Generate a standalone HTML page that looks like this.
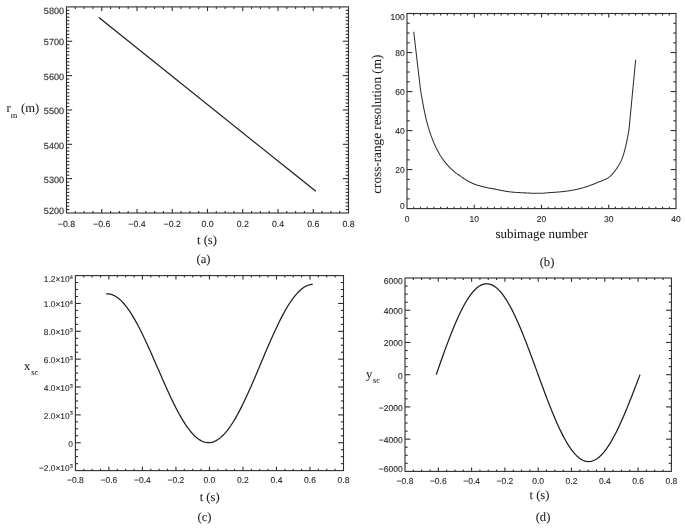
<!DOCTYPE html>
<html><head><meta charset="utf-8"><style>
html,body{margin:0;padding:0;background:#fff;}
body{width:685px;height:529px;overflow:hidden;}
svg{display:block;filter:grayscale(1) blur(0.3px);text-rendering:geometricPrecision;}
.s{font-family:"Liberation Sans",sans-serif;fill:#2a2a2a;stroke:#2a2a2a;stroke-width:0.12px;}
.r{font-family:"Liberation Serif",serif;fill:#1a1a1a;stroke:#1a1a1a;stroke-width:0.06px;}
</style></head><body>
<svg width="685" height="529" viewBox="0 0 685 529">
<rect width="685" height="529" fill="#fff"/>
<rect x="66.5" y="6.9" width="282" height="206.1" fill="none" stroke="#2e2e2e" stroke-width="1.1"/>
<text class="s" x="66.5" y="226.8" text-anchor="middle" font-size="8.8">&#8722;0.8</text>
<line x1="75.31" y1="213" x2="75.31" y2="210.94" stroke="#2e2e2e" stroke-width="1.1"/>
<line x1="75.31" y1="6.9" x2="75.31" y2="8.96" stroke="#2e2e2e" stroke-width="1.1"/>
<line x1="84.12" y1="213" x2="84.12" y2="210.94" stroke="#2e2e2e" stroke-width="1.1"/>
<line x1="84.12" y1="6.9" x2="84.12" y2="8.96" stroke="#2e2e2e" stroke-width="1.1"/>
<line x1="92.94" y1="213" x2="92.94" y2="210.94" stroke="#2e2e2e" stroke-width="1.1"/>
<line x1="92.94" y1="6.9" x2="92.94" y2="8.96" stroke="#2e2e2e" stroke-width="1.1"/>
<line x1="101.75" y1="213" x2="101.75" y2="208.88" stroke="#2e2e2e" stroke-width="1.1"/>
<line x1="101.75" y1="6.9" x2="101.75" y2="11.02" stroke="#2e2e2e" stroke-width="1.1"/>
<text class="s" x="101.75" y="226.8" text-anchor="middle" font-size="8.8">&#8722;0.6</text>
<line x1="110.56" y1="213" x2="110.56" y2="210.94" stroke="#2e2e2e" stroke-width="1.1"/>
<line x1="110.56" y1="6.9" x2="110.56" y2="8.96" stroke="#2e2e2e" stroke-width="1.1"/>
<line x1="119.38" y1="213" x2="119.38" y2="210.94" stroke="#2e2e2e" stroke-width="1.1"/>
<line x1="119.38" y1="6.9" x2="119.38" y2="8.96" stroke="#2e2e2e" stroke-width="1.1"/>
<line x1="128.19" y1="213" x2="128.19" y2="210.94" stroke="#2e2e2e" stroke-width="1.1"/>
<line x1="128.19" y1="6.9" x2="128.19" y2="8.96" stroke="#2e2e2e" stroke-width="1.1"/>
<line x1="137" y1="213" x2="137" y2="208.88" stroke="#2e2e2e" stroke-width="1.1"/>
<line x1="137" y1="6.9" x2="137" y2="11.02" stroke="#2e2e2e" stroke-width="1.1"/>
<text class="s" x="137" y="226.8" text-anchor="middle" font-size="8.8">&#8722;0.4</text>
<line x1="145.81" y1="213" x2="145.81" y2="210.94" stroke="#2e2e2e" stroke-width="1.1"/>
<line x1="145.81" y1="6.9" x2="145.81" y2="8.96" stroke="#2e2e2e" stroke-width="1.1"/>
<line x1="154.62" y1="213" x2="154.62" y2="210.94" stroke="#2e2e2e" stroke-width="1.1"/>
<line x1="154.62" y1="6.9" x2="154.62" y2="8.96" stroke="#2e2e2e" stroke-width="1.1"/>
<line x1="163.44" y1="213" x2="163.44" y2="210.94" stroke="#2e2e2e" stroke-width="1.1"/>
<line x1="163.44" y1="6.9" x2="163.44" y2="8.96" stroke="#2e2e2e" stroke-width="1.1"/>
<line x1="172.25" y1="213" x2="172.25" y2="208.88" stroke="#2e2e2e" stroke-width="1.1"/>
<line x1="172.25" y1="6.9" x2="172.25" y2="11.02" stroke="#2e2e2e" stroke-width="1.1"/>
<text class="s" x="172.25" y="226.8" text-anchor="middle" font-size="8.8">&#8722;0.2</text>
<line x1="181.06" y1="213" x2="181.06" y2="210.94" stroke="#2e2e2e" stroke-width="1.1"/>
<line x1="181.06" y1="6.9" x2="181.06" y2="8.96" stroke="#2e2e2e" stroke-width="1.1"/>
<line x1="189.88" y1="213" x2="189.88" y2="210.94" stroke="#2e2e2e" stroke-width="1.1"/>
<line x1="189.88" y1="6.9" x2="189.88" y2="8.96" stroke="#2e2e2e" stroke-width="1.1"/>
<line x1="198.69" y1="213" x2="198.69" y2="210.94" stroke="#2e2e2e" stroke-width="1.1"/>
<line x1="198.69" y1="6.9" x2="198.69" y2="8.96" stroke="#2e2e2e" stroke-width="1.1"/>
<line x1="207.5" y1="213" x2="207.5" y2="208.88" stroke="#2e2e2e" stroke-width="1.1"/>
<line x1="207.5" y1="6.9" x2="207.5" y2="11.02" stroke="#2e2e2e" stroke-width="1.1"/>
<text class="s" x="207.5" y="226.8" text-anchor="middle" font-size="8.8">0.0</text>
<line x1="216.31" y1="213" x2="216.31" y2="210.94" stroke="#2e2e2e" stroke-width="1.1"/>
<line x1="216.31" y1="6.9" x2="216.31" y2="8.96" stroke="#2e2e2e" stroke-width="1.1"/>
<line x1="225.12" y1="213" x2="225.12" y2="210.94" stroke="#2e2e2e" stroke-width="1.1"/>
<line x1="225.12" y1="6.9" x2="225.12" y2="8.96" stroke="#2e2e2e" stroke-width="1.1"/>
<line x1="233.94" y1="213" x2="233.94" y2="210.94" stroke="#2e2e2e" stroke-width="1.1"/>
<line x1="233.94" y1="6.9" x2="233.94" y2="8.96" stroke="#2e2e2e" stroke-width="1.1"/>
<line x1="242.75" y1="213" x2="242.75" y2="208.88" stroke="#2e2e2e" stroke-width="1.1"/>
<line x1="242.75" y1="6.9" x2="242.75" y2="11.02" stroke="#2e2e2e" stroke-width="1.1"/>
<text class="s" x="242.75" y="226.8" text-anchor="middle" font-size="8.8">0.2</text>
<line x1="251.56" y1="213" x2="251.56" y2="210.94" stroke="#2e2e2e" stroke-width="1.1"/>
<line x1="251.56" y1="6.9" x2="251.56" y2="8.96" stroke="#2e2e2e" stroke-width="1.1"/>
<line x1="260.38" y1="213" x2="260.38" y2="210.94" stroke="#2e2e2e" stroke-width="1.1"/>
<line x1="260.38" y1="6.9" x2="260.38" y2="8.96" stroke="#2e2e2e" stroke-width="1.1"/>
<line x1="269.19" y1="213" x2="269.19" y2="210.94" stroke="#2e2e2e" stroke-width="1.1"/>
<line x1="269.19" y1="6.9" x2="269.19" y2="8.96" stroke="#2e2e2e" stroke-width="1.1"/>
<line x1="278" y1="213" x2="278" y2="208.88" stroke="#2e2e2e" stroke-width="1.1"/>
<line x1="278" y1="6.9" x2="278" y2="11.02" stroke="#2e2e2e" stroke-width="1.1"/>
<text class="s" x="278" y="226.8" text-anchor="middle" font-size="8.8">0.4</text>
<line x1="286.81" y1="213" x2="286.81" y2="210.94" stroke="#2e2e2e" stroke-width="1.1"/>
<line x1="286.81" y1="6.9" x2="286.81" y2="8.96" stroke="#2e2e2e" stroke-width="1.1"/>
<line x1="295.62" y1="213" x2="295.62" y2="210.94" stroke="#2e2e2e" stroke-width="1.1"/>
<line x1="295.62" y1="6.9" x2="295.62" y2="8.96" stroke="#2e2e2e" stroke-width="1.1"/>
<line x1="304.44" y1="213" x2="304.44" y2="210.94" stroke="#2e2e2e" stroke-width="1.1"/>
<line x1="304.44" y1="6.9" x2="304.44" y2="8.96" stroke="#2e2e2e" stroke-width="1.1"/>
<line x1="313.25" y1="213" x2="313.25" y2="208.88" stroke="#2e2e2e" stroke-width="1.1"/>
<line x1="313.25" y1="6.9" x2="313.25" y2="11.02" stroke="#2e2e2e" stroke-width="1.1"/>
<text class="s" x="313.25" y="226.8" text-anchor="middle" font-size="8.8">0.6</text>
<line x1="322.06" y1="213" x2="322.06" y2="210.94" stroke="#2e2e2e" stroke-width="1.1"/>
<line x1="322.06" y1="6.9" x2="322.06" y2="8.96" stroke="#2e2e2e" stroke-width="1.1"/>
<line x1="330.88" y1="213" x2="330.88" y2="210.94" stroke="#2e2e2e" stroke-width="1.1"/>
<line x1="330.88" y1="6.9" x2="330.88" y2="8.96" stroke="#2e2e2e" stroke-width="1.1"/>
<line x1="339.69" y1="213" x2="339.69" y2="210.94" stroke="#2e2e2e" stroke-width="1.1"/>
<line x1="339.69" y1="6.9" x2="339.69" y2="8.96" stroke="#2e2e2e" stroke-width="1.1"/>
<text class="s" x="348.5" y="226.8" text-anchor="middle" font-size="8.8">0.8</text>
<text class="s" x="64.1" y="213.6" text-anchor="end" font-size="9.1">5200</text>
<line x1="66.5" y1="209.56" x2="69.32" y2="209.56" stroke="#2e2e2e" stroke-width="1.1"/>
<line x1="348.5" y1="209.56" x2="345.68" y2="209.56" stroke="#2e2e2e" stroke-width="1.1"/>
<line x1="66.5" y1="206.13" x2="69.32" y2="206.13" stroke="#2e2e2e" stroke-width="1.1"/>
<line x1="348.5" y1="206.13" x2="345.68" y2="206.13" stroke="#2e2e2e" stroke-width="1.1"/>
<line x1="66.5" y1="202.69" x2="69.32" y2="202.69" stroke="#2e2e2e" stroke-width="1.1"/>
<line x1="348.5" y1="202.69" x2="345.68" y2="202.69" stroke="#2e2e2e" stroke-width="1.1"/>
<line x1="66.5" y1="199.26" x2="69.32" y2="199.26" stroke="#2e2e2e" stroke-width="1.1"/>
<line x1="348.5" y1="199.26" x2="345.68" y2="199.26" stroke="#2e2e2e" stroke-width="1.1"/>
<line x1="66.5" y1="195.82" x2="69.32" y2="195.82" stroke="#2e2e2e" stroke-width="1.1"/>
<line x1="348.5" y1="195.82" x2="345.68" y2="195.82" stroke="#2e2e2e" stroke-width="1.1"/>
<line x1="66.5" y1="192.39" x2="69.32" y2="192.39" stroke="#2e2e2e" stroke-width="1.1"/>
<line x1="348.5" y1="192.39" x2="345.68" y2="192.39" stroke="#2e2e2e" stroke-width="1.1"/>
<line x1="66.5" y1="188.96" x2="69.32" y2="188.96" stroke="#2e2e2e" stroke-width="1.1"/>
<line x1="348.5" y1="188.96" x2="345.68" y2="188.96" stroke="#2e2e2e" stroke-width="1.1"/>
<line x1="66.5" y1="185.52" x2="69.32" y2="185.52" stroke="#2e2e2e" stroke-width="1.1"/>
<line x1="348.5" y1="185.52" x2="345.68" y2="185.52" stroke="#2e2e2e" stroke-width="1.1"/>
<line x1="66.5" y1="182.09" x2="69.32" y2="182.09" stroke="#2e2e2e" stroke-width="1.1"/>
<line x1="348.5" y1="182.09" x2="345.68" y2="182.09" stroke="#2e2e2e" stroke-width="1.1"/>
<line x1="66.5" y1="178.65" x2="72.14" y2="178.65" stroke="#2e2e2e" stroke-width="1.1"/>
<line x1="348.5" y1="178.65" x2="342.86" y2="178.65" stroke="#2e2e2e" stroke-width="1.1"/>
<text class="s" x="64.1" y="182.85" text-anchor="end" font-size="9.1">5300</text>
<line x1="66.5" y1="175.22" x2="69.32" y2="175.22" stroke="#2e2e2e" stroke-width="1.1"/>
<line x1="348.5" y1="175.22" x2="345.68" y2="175.22" stroke="#2e2e2e" stroke-width="1.1"/>
<line x1="66.5" y1="171.78" x2="69.32" y2="171.78" stroke="#2e2e2e" stroke-width="1.1"/>
<line x1="348.5" y1="171.78" x2="345.68" y2="171.78" stroke="#2e2e2e" stroke-width="1.1"/>
<line x1="66.5" y1="168.34" x2="69.32" y2="168.34" stroke="#2e2e2e" stroke-width="1.1"/>
<line x1="348.5" y1="168.34" x2="345.68" y2="168.34" stroke="#2e2e2e" stroke-width="1.1"/>
<line x1="66.5" y1="164.91" x2="69.32" y2="164.91" stroke="#2e2e2e" stroke-width="1.1"/>
<line x1="348.5" y1="164.91" x2="345.68" y2="164.91" stroke="#2e2e2e" stroke-width="1.1"/>
<line x1="66.5" y1="161.48" x2="69.32" y2="161.48" stroke="#2e2e2e" stroke-width="1.1"/>
<line x1="348.5" y1="161.48" x2="345.68" y2="161.48" stroke="#2e2e2e" stroke-width="1.1"/>
<line x1="66.5" y1="158.04" x2="69.32" y2="158.04" stroke="#2e2e2e" stroke-width="1.1"/>
<line x1="348.5" y1="158.04" x2="345.68" y2="158.04" stroke="#2e2e2e" stroke-width="1.1"/>
<line x1="66.5" y1="154.61" x2="69.32" y2="154.61" stroke="#2e2e2e" stroke-width="1.1"/>
<line x1="348.5" y1="154.61" x2="345.68" y2="154.61" stroke="#2e2e2e" stroke-width="1.1"/>
<line x1="66.5" y1="151.17" x2="69.32" y2="151.17" stroke="#2e2e2e" stroke-width="1.1"/>
<line x1="348.5" y1="151.17" x2="345.68" y2="151.17" stroke="#2e2e2e" stroke-width="1.1"/>
<line x1="66.5" y1="147.74" x2="69.32" y2="147.74" stroke="#2e2e2e" stroke-width="1.1"/>
<line x1="348.5" y1="147.74" x2="345.68" y2="147.74" stroke="#2e2e2e" stroke-width="1.1"/>
<line x1="66.5" y1="144.3" x2="72.14" y2="144.3" stroke="#2e2e2e" stroke-width="1.1"/>
<line x1="348.5" y1="144.3" x2="342.86" y2="144.3" stroke="#2e2e2e" stroke-width="1.1"/>
<text class="s" x="64.1" y="148.5" text-anchor="end" font-size="9.1">5400</text>
<line x1="66.5" y1="140.87" x2="69.32" y2="140.87" stroke="#2e2e2e" stroke-width="1.1"/>
<line x1="348.5" y1="140.87" x2="345.68" y2="140.87" stroke="#2e2e2e" stroke-width="1.1"/>
<line x1="66.5" y1="137.43" x2="69.32" y2="137.43" stroke="#2e2e2e" stroke-width="1.1"/>
<line x1="348.5" y1="137.43" x2="345.68" y2="137.43" stroke="#2e2e2e" stroke-width="1.1"/>
<line x1="66.5" y1="134" x2="69.32" y2="134" stroke="#2e2e2e" stroke-width="1.1"/>
<line x1="348.5" y1="134" x2="345.68" y2="134" stroke="#2e2e2e" stroke-width="1.1"/>
<line x1="66.5" y1="130.56" x2="69.32" y2="130.56" stroke="#2e2e2e" stroke-width="1.1"/>
<line x1="348.5" y1="130.56" x2="345.68" y2="130.56" stroke="#2e2e2e" stroke-width="1.1"/>
<line x1="66.5" y1="127.13" x2="69.32" y2="127.13" stroke="#2e2e2e" stroke-width="1.1"/>
<line x1="348.5" y1="127.13" x2="345.68" y2="127.13" stroke="#2e2e2e" stroke-width="1.1"/>
<line x1="66.5" y1="123.69" x2="69.32" y2="123.69" stroke="#2e2e2e" stroke-width="1.1"/>
<line x1="348.5" y1="123.69" x2="345.68" y2="123.69" stroke="#2e2e2e" stroke-width="1.1"/>
<line x1="66.5" y1="120.26" x2="69.32" y2="120.26" stroke="#2e2e2e" stroke-width="1.1"/>
<line x1="348.5" y1="120.26" x2="345.68" y2="120.26" stroke="#2e2e2e" stroke-width="1.1"/>
<line x1="66.5" y1="116.82" x2="69.32" y2="116.82" stroke="#2e2e2e" stroke-width="1.1"/>
<line x1="348.5" y1="116.82" x2="345.68" y2="116.82" stroke="#2e2e2e" stroke-width="1.1"/>
<line x1="66.5" y1="113.39" x2="69.32" y2="113.39" stroke="#2e2e2e" stroke-width="1.1"/>
<line x1="348.5" y1="113.39" x2="345.68" y2="113.39" stroke="#2e2e2e" stroke-width="1.1"/>
<line x1="66.5" y1="109.95" x2="72.14" y2="109.95" stroke="#2e2e2e" stroke-width="1.1"/>
<line x1="348.5" y1="109.95" x2="342.86" y2="109.95" stroke="#2e2e2e" stroke-width="1.1"/>
<text class="s" x="64.1" y="114.15" text-anchor="end" font-size="9.1">5500</text>
<line x1="66.5" y1="106.52" x2="69.32" y2="106.52" stroke="#2e2e2e" stroke-width="1.1"/>
<line x1="348.5" y1="106.52" x2="345.68" y2="106.52" stroke="#2e2e2e" stroke-width="1.1"/>
<line x1="66.5" y1="103.08" x2="69.32" y2="103.08" stroke="#2e2e2e" stroke-width="1.1"/>
<line x1="348.5" y1="103.08" x2="345.68" y2="103.08" stroke="#2e2e2e" stroke-width="1.1"/>
<line x1="66.5" y1="99.65" x2="69.32" y2="99.65" stroke="#2e2e2e" stroke-width="1.1"/>
<line x1="348.5" y1="99.65" x2="345.68" y2="99.65" stroke="#2e2e2e" stroke-width="1.1"/>
<line x1="66.5" y1="96.21" x2="69.32" y2="96.21" stroke="#2e2e2e" stroke-width="1.1"/>
<line x1="348.5" y1="96.21" x2="345.68" y2="96.21" stroke="#2e2e2e" stroke-width="1.1"/>
<line x1="66.5" y1="92.78" x2="69.32" y2="92.78" stroke="#2e2e2e" stroke-width="1.1"/>
<line x1="348.5" y1="92.78" x2="345.68" y2="92.78" stroke="#2e2e2e" stroke-width="1.1"/>
<line x1="66.5" y1="89.34" x2="69.32" y2="89.34" stroke="#2e2e2e" stroke-width="1.1"/>
<line x1="348.5" y1="89.34" x2="345.68" y2="89.34" stroke="#2e2e2e" stroke-width="1.1"/>
<line x1="66.5" y1="85.91" x2="69.32" y2="85.91" stroke="#2e2e2e" stroke-width="1.1"/>
<line x1="348.5" y1="85.91" x2="345.68" y2="85.91" stroke="#2e2e2e" stroke-width="1.1"/>
<line x1="66.5" y1="82.47" x2="69.32" y2="82.47" stroke="#2e2e2e" stroke-width="1.1"/>
<line x1="348.5" y1="82.47" x2="345.68" y2="82.47" stroke="#2e2e2e" stroke-width="1.1"/>
<line x1="66.5" y1="79.03" x2="69.32" y2="79.03" stroke="#2e2e2e" stroke-width="1.1"/>
<line x1="348.5" y1="79.03" x2="345.68" y2="79.03" stroke="#2e2e2e" stroke-width="1.1"/>
<line x1="66.5" y1="75.6" x2="72.14" y2="75.6" stroke="#2e2e2e" stroke-width="1.1"/>
<line x1="348.5" y1="75.6" x2="342.86" y2="75.6" stroke="#2e2e2e" stroke-width="1.1"/>
<text class="s" x="64.1" y="79.8" text-anchor="end" font-size="9.1">5600</text>
<line x1="66.5" y1="72.17" x2="69.32" y2="72.17" stroke="#2e2e2e" stroke-width="1.1"/>
<line x1="348.5" y1="72.17" x2="345.68" y2="72.17" stroke="#2e2e2e" stroke-width="1.1"/>
<line x1="66.5" y1="68.73" x2="69.32" y2="68.73" stroke="#2e2e2e" stroke-width="1.1"/>
<line x1="348.5" y1="68.73" x2="345.68" y2="68.73" stroke="#2e2e2e" stroke-width="1.1"/>
<line x1="66.5" y1="65.3" x2="69.32" y2="65.3" stroke="#2e2e2e" stroke-width="1.1"/>
<line x1="348.5" y1="65.3" x2="345.68" y2="65.3" stroke="#2e2e2e" stroke-width="1.1"/>
<line x1="66.5" y1="61.86" x2="69.32" y2="61.86" stroke="#2e2e2e" stroke-width="1.1"/>
<line x1="348.5" y1="61.86" x2="345.68" y2="61.86" stroke="#2e2e2e" stroke-width="1.1"/>
<line x1="66.5" y1="58.43" x2="69.32" y2="58.43" stroke="#2e2e2e" stroke-width="1.1"/>
<line x1="348.5" y1="58.43" x2="345.68" y2="58.43" stroke="#2e2e2e" stroke-width="1.1"/>
<line x1="66.5" y1="54.99" x2="69.32" y2="54.99" stroke="#2e2e2e" stroke-width="1.1"/>
<line x1="348.5" y1="54.99" x2="345.68" y2="54.99" stroke="#2e2e2e" stroke-width="1.1"/>
<line x1="66.5" y1="51.56" x2="69.32" y2="51.56" stroke="#2e2e2e" stroke-width="1.1"/>
<line x1="348.5" y1="51.56" x2="345.68" y2="51.56" stroke="#2e2e2e" stroke-width="1.1"/>
<line x1="66.5" y1="48.12" x2="69.32" y2="48.12" stroke="#2e2e2e" stroke-width="1.1"/>
<line x1="348.5" y1="48.12" x2="345.68" y2="48.12" stroke="#2e2e2e" stroke-width="1.1"/>
<line x1="66.5" y1="44.69" x2="69.32" y2="44.69" stroke="#2e2e2e" stroke-width="1.1"/>
<line x1="348.5" y1="44.69" x2="345.68" y2="44.69" stroke="#2e2e2e" stroke-width="1.1"/>
<line x1="66.5" y1="41.25" x2="72.14" y2="41.25" stroke="#2e2e2e" stroke-width="1.1"/>
<line x1="348.5" y1="41.25" x2="342.86" y2="41.25" stroke="#2e2e2e" stroke-width="1.1"/>
<text class="s" x="64.1" y="45.45" text-anchor="end" font-size="9.1">5700</text>
<line x1="66.5" y1="37.81" x2="69.32" y2="37.81" stroke="#2e2e2e" stroke-width="1.1"/>
<line x1="348.5" y1="37.81" x2="345.68" y2="37.81" stroke="#2e2e2e" stroke-width="1.1"/>
<line x1="66.5" y1="34.38" x2="69.32" y2="34.38" stroke="#2e2e2e" stroke-width="1.1"/>
<line x1="348.5" y1="34.38" x2="345.68" y2="34.38" stroke="#2e2e2e" stroke-width="1.1"/>
<line x1="66.5" y1="30.95" x2="69.32" y2="30.95" stroke="#2e2e2e" stroke-width="1.1"/>
<line x1="348.5" y1="30.95" x2="345.68" y2="30.95" stroke="#2e2e2e" stroke-width="1.1"/>
<line x1="66.5" y1="27.51" x2="69.32" y2="27.51" stroke="#2e2e2e" stroke-width="1.1"/>
<line x1="348.5" y1="27.51" x2="345.68" y2="27.51" stroke="#2e2e2e" stroke-width="1.1"/>
<line x1="66.5" y1="24.08" x2="69.32" y2="24.08" stroke="#2e2e2e" stroke-width="1.1"/>
<line x1="348.5" y1="24.08" x2="345.68" y2="24.08" stroke="#2e2e2e" stroke-width="1.1"/>
<line x1="66.5" y1="20.64" x2="69.32" y2="20.64" stroke="#2e2e2e" stroke-width="1.1"/>
<line x1="348.5" y1="20.64" x2="345.68" y2="20.64" stroke="#2e2e2e" stroke-width="1.1"/>
<line x1="66.5" y1="17.21" x2="69.32" y2="17.21" stroke="#2e2e2e" stroke-width="1.1"/>
<line x1="348.5" y1="17.21" x2="345.68" y2="17.21" stroke="#2e2e2e" stroke-width="1.1"/>
<line x1="66.5" y1="13.77" x2="69.32" y2="13.77" stroke="#2e2e2e" stroke-width="1.1"/>
<line x1="348.5" y1="13.77" x2="345.68" y2="13.77" stroke="#2e2e2e" stroke-width="1.1"/>
<line x1="66.5" y1="10.34" x2="69.32" y2="10.34" stroke="#2e2e2e" stroke-width="1.1"/>
<line x1="348.5" y1="10.34" x2="345.68" y2="10.34" stroke="#2e2e2e" stroke-width="1.1"/>
<text class="s" x="64.1" y="13.7" text-anchor="end" font-size="9.1">5800</text>
<polyline points="98.93,17.55 315.81,191.36" fill="none" stroke="#1e1e1e" stroke-width="1.25" stroke-linejoin="round"/>
<text class="r" x="207" y="243.6" text-anchor="middle" font-size="12.6">t (s)</text>
<text class="r" x="203.5" y="262.7" text-anchor="middle" font-size="12.6">(a)</text>
<text x="6.5" y="112.3" font-size="12.6" class="r">r<tspan font-size="8.4" dy="5.6">m</tspan><tspan dy="-5.6" dx="3.9">(m)</tspan></text>
<rect x="407" y="13.5" width="269" height="195.1" fill="none" stroke="#2e2e2e" stroke-width="1.1"/>
<text class="s" x="407" y="221.7" text-anchor="middle" font-size="8.5">0</text>
<line x1="413.73" y1="208.6" x2="413.73" y2="206.65" stroke="#2e2e2e" stroke-width="1.1"/>
<line x1="413.73" y1="13.5" x2="413.73" y2="15.45" stroke="#2e2e2e" stroke-width="1.1"/>
<line x1="420.45" y1="208.6" x2="420.45" y2="206.65" stroke="#2e2e2e" stroke-width="1.1"/>
<line x1="420.45" y1="13.5" x2="420.45" y2="15.45" stroke="#2e2e2e" stroke-width="1.1"/>
<line x1="427.18" y1="208.6" x2="427.18" y2="206.65" stroke="#2e2e2e" stroke-width="1.1"/>
<line x1="427.18" y1="13.5" x2="427.18" y2="15.45" stroke="#2e2e2e" stroke-width="1.1"/>
<line x1="433.9" y1="208.6" x2="433.9" y2="206.65" stroke="#2e2e2e" stroke-width="1.1"/>
<line x1="433.9" y1="13.5" x2="433.9" y2="15.45" stroke="#2e2e2e" stroke-width="1.1"/>
<line x1="440.62" y1="208.6" x2="440.62" y2="206.65" stroke="#2e2e2e" stroke-width="1.1"/>
<line x1="440.62" y1="13.5" x2="440.62" y2="15.45" stroke="#2e2e2e" stroke-width="1.1"/>
<line x1="447.35" y1="208.6" x2="447.35" y2="206.65" stroke="#2e2e2e" stroke-width="1.1"/>
<line x1="447.35" y1="13.5" x2="447.35" y2="15.45" stroke="#2e2e2e" stroke-width="1.1"/>
<line x1="454.07" y1="208.6" x2="454.07" y2="206.65" stroke="#2e2e2e" stroke-width="1.1"/>
<line x1="454.07" y1="13.5" x2="454.07" y2="15.45" stroke="#2e2e2e" stroke-width="1.1"/>
<line x1="460.8" y1="208.6" x2="460.8" y2="206.65" stroke="#2e2e2e" stroke-width="1.1"/>
<line x1="460.8" y1="13.5" x2="460.8" y2="15.45" stroke="#2e2e2e" stroke-width="1.1"/>
<line x1="467.52" y1="208.6" x2="467.52" y2="206.65" stroke="#2e2e2e" stroke-width="1.1"/>
<line x1="467.52" y1="13.5" x2="467.52" y2="15.45" stroke="#2e2e2e" stroke-width="1.1"/>
<line x1="474.25" y1="208.6" x2="474.25" y2="204.7" stroke="#2e2e2e" stroke-width="1.1"/>
<line x1="474.25" y1="13.5" x2="474.25" y2="17.4" stroke="#2e2e2e" stroke-width="1.1"/>
<text class="s" x="474.25" y="221.7" text-anchor="middle" font-size="8.5">10</text>
<line x1="480.98" y1="208.6" x2="480.98" y2="206.65" stroke="#2e2e2e" stroke-width="1.1"/>
<line x1="480.98" y1="13.5" x2="480.98" y2="15.45" stroke="#2e2e2e" stroke-width="1.1"/>
<line x1="487.7" y1="208.6" x2="487.7" y2="206.65" stroke="#2e2e2e" stroke-width="1.1"/>
<line x1="487.7" y1="13.5" x2="487.7" y2="15.45" stroke="#2e2e2e" stroke-width="1.1"/>
<line x1="494.43" y1="208.6" x2="494.43" y2="206.65" stroke="#2e2e2e" stroke-width="1.1"/>
<line x1="494.43" y1="13.5" x2="494.43" y2="15.45" stroke="#2e2e2e" stroke-width="1.1"/>
<line x1="501.15" y1="208.6" x2="501.15" y2="206.65" stroke="#2e2e2e" stroke-width="1.1"/>
<line x1="501.15" y1="13.5" x2="501.15" y2="15.45" stroke="#2e2e2e" stroke-width="1.1"/>
<line x1="507.88" y1="208.6" x2="507.88" y2="206.65" stroke="#2e2e2e" stroke-width="1.1"/>
<line x1="507.88" y1="13.5" x2="507.88" y2="15.45" stroke="#2e2e2e" stroke-width="1.1"/>
<line x1="514.6" y1="208.6" x2="514.6" y2="206.65" stroke="#2e2e2e" stroke-width="1.1"/>
<line x1="514.6" y1="13.5" x2="514.6" y2="15.45" stroke="#2e2e2e" stroke-width="1.1"/>
<line x1="521.33" y1="208.6" x2="521.33" y2="206.65" stroke="#2e2e2e" stroke-width="1.1"/>
<line x1="521.33" y1="13.5" x2="521.33" y2="15.45" stroke="#2e2e2e" stroke-width="1.1"/>
<line x1="528.05" y1="208.6" x2="528.05" y2="206.65" stroke="#2e2e2e" stroke-width="1.1"/>
<line x1="528.05" y1="13.5" x2="528.05" y2="15.45" stroke="#2e2e2e" stroke-width="1.1"/>
<line x1="534.77" y1="208.6" x2="534.77" y2="206.65" stroke="#2e2e2e" stroke-width="1.1"/>
<line x1="534.77" y1="13.5" x2="534.77" y2="15.45" stroke="#2e2e2e" stroke-width="1.1"/>
<line x1="541.5" y1="208.6" x2="541.5" y2="204.7" stroke="#2e2e2e" stroke-width="1.1"/>
<line x1="541.5" y1="13.5" x2="541.5" y2="17.4" stroke="#2e2e2e" stroke-width="1.1"/>
<text class="s" x="541.5" y="221.7" text-anchor="middle" font-size="8.5">20</text>
<line x1="548.23" y1="208.6" x2="548.23" y2="206.65" stroke="#2e2e2e" stroke-width="1.1"/>
<line x1="548.23" y1="13.5" x2="548.23" y2="15.45" stroke="#2e2e2e" stroke-width="1.1"/>
<line x1="554.95" y1="208.6" x2="554.95" y2="206.65" stroke="#2e2e2e" stroke-width="1.1"/>
<line x1="554.95" y1="13.5" x2="554.95" y2="15.45" stroke="#2e2e2e" stroke-width="1.1"/>
<line x1="561.67" y1="208.6" x2="561.67" y2="206.65" stroke="#2e2e2e" stroke-width="1.1"/>
<line x1="561.67" y1="13.5" x2="561.67" y2="15.45" stroke="#2e2e2e" stroke-width="1.1"/>
<line x1="568.4" y1="208.6" x2="568.4" y2="206.65" stroke="#2e2e2e" stroke-width="1.1"/>
<line x1="568.4" y1="13.5" x2="568.4" y2="15.45" stroke="#2e2e2e" stroke-width="1.1"/>
<line x1="575.12" y1="208.6" x2="575.12" y2="206.65" stroke="#2e2e2e" stroke-width="1.1"/>
<line x1="575.12" y1="13.5" x2="575.12" y2="15.45" stroke="#2e2e2e" stroke-width="1.1"/>
<line x1="581.85" y1="208.6" x2="581.85" y2="206.65" stroke="#2e2e2e" stroke-width="1.1"/>
<line x1="581.85" y1="13.5" x2="581.85" y2="15.45" stroke="#2e2e2e" stroke-width="1.1"/>
<line x1="588.58" y1="208.6" x2="588.58" y2="206.65" stroke="#2e2e2e" stroke-width="1.1"/>
<line x1="588.58" y1="13.5" x2="588.58" y2="15.45" stroke="#2e2e2e" stroke-width="1.1"/>
<line x1="595.3" y1="208.6" x2="595.3" y2="206.65" stroke="#2e2e2e" stroke-width="1.1"/>
<line x1="595.3" y1="13.5" x2="595.3" y2="15.45" stroke="#2e2e2e" stroke-width="1.1"/>
<line x1="602.02" y1="208.6" x2="602.02" y2="206.65" stroke="#2e2e2e" stroke-width="1.1"/>
<line x1="602.02" y1="13.5" x2="602.02" y2="15.45" stroke="#2e2e2e" stroke-width="1.1"/>
<line x1="608.75" y1="208.6" x2="608.75" y2="204.7" stroke="#2e2e2e" stroke-width="1.1"/>
<line x1="608.75" y1="13.5" x2="608.75" y2="17.4" stroke="#2e2e2e" stroke-width="1.1"/>
<text class="s" x="608.75" y="221.7" text-anchor="middle" font-size="8.5">30</text>
<line x1="615.48" y1="208.6" x2="615.48" y2="206.65" stroke="#2e2e2e" stroke-width="1.1"/>
<line x1="615.48" y1="13.5" x2="615.48" y2="15.45" stroke="#2e2e2e" stroke-width="1.1"/>
<line x1="622.2" y1="208.6" x2="622.2" y2="206.65" stroke="#2e2e2e" stroke-width="1.1"/>
<line x1="622.2" y1="13.5" x2="622.2" y2="15.45" stroke="#2e2e2e" stroke-width="1.1"/>
<line x1="628.92" y1="208.6" x2="628.92" y2="206.65" stroke="#2e2e2e" stroke-width="1.1"/>
<line x1="628.92" y1="13.5" x2="628.92" y2="15.45" stroke="#2e2e2e" stroke-width="1.1"/>
<line x1="635.65" y1="208.6" x2="635.65" y2="206.65" stroke="#2e2e2e" stroke-width="1.1"/>
<line x1="635.65" y1="13.5" x2="635.65" y2="15.45" stroke="#2e2e2e" stroke-width="1.1"/>
<line x1="642.38" y1="208.6" x2="642.38" y2="206.65" stroke="#2e2e2e" stroke-width="1.1"/>
<line x1="642.38" y1="13.5" x2="642.38" y2="15.45" stroke="#2e2e2e" stroke-width="1.1"/>
<line x1="649.1" y1="208.6" x2="649.1" y2="206.65" stroke="#2e2e2e" stroke-width="1.1"/>
<line x1="649.1" y1="13.5" x2="649.1" y2="15.45" stroke="#2e2e2e" stroke-width="1.1"/>
<line x1="655.83" y1="208.6" x2="655.83" y2="206.65" stroke="#2e2e2e" stroke-width="1.1"/>
<line x1="655.83" y1="13.5" x2="655.83" y2="15.45" stroke="#2e2e2e" stroke-width="1.1"/>
<line x1="662.55" y1="208.6" x2="662.55" y2="206.65" stroke="#2e2e2e" stroke-width="1.1"/>
<line x1="662.55" y1="13.5" x2="662.55" y2="15.45" stroke="#2e2e2e" stroke-width="1.1"/>
<line x1="669.27" y1="208.6" x2="669.27" y2="206.65" stroke="#2e2e2e" stroke-width="1.1"/>
<line x1="669.27" y1="13.5" x2="669.27" y2="15.45" stroke="#2e2e2e" stroke-width="1.1"/>
<text class="s" x="676" y="221.7" text-anchor="middle" font-size="8.5">40</text>
<text class="s" x="404.7" y="208.8" text-anchor="end" font-size="8.5">0</text>
<line x1="407" y1="198.84" x2="409.69" y2="198.84" stroke="#2e2e2e" stroke-width="1.1"/>
<line x1="676" y1="198.84" x2="673.31" y2="198.84" stroke="#2e2e2e" stroke-width="1.1"/>
<line x1="407" y1="189.09" x2="409.69" y2="189.09" stroke="#2e2e2e" stroke-width="1.1"/>
<line x1="676" y1="189.09" x2="673.31" y2="189.09" stroke="#2e2e2e" stroke-width="1.1"/>
<line x1="407" y1="179.34" x2="409.69" y2="179.34" stroke="#2e2e2e" stroke-width="1.1"/>
<line x1="676" y1="179.34" x2="673.31" y2="179.34" stroke="#2e2e2e" stroke-width="1.1"/>
<line x1="407" y1="169.58" x2="412.38" y2="169.58" stroke="#2e2e2e" stroke-width="1.1"/>
<line x1="676" y1="169.58" x2="670.62" y2="169.58" stroke="#2e2e2e" stroke-width="1.1"/>
<text class="s" x="404.7" y="173.48" text-anchor="end" font-size="8.5">20</text>
<line x1="407" y1="159.82" x2="409.69" y2="159.82" stroke="#2e2e2e" stroke-width="1.1"/>
<line x1="676" y1="159.82" x2="673.31" y2="159.82" stroke="#2e2e2e" stroke-width="1.1"/>
<line x1="407" y1="150.07" x2="409.69" y2="150.07" stroke="#2e2e2e" stroke-width="1.1"/>
<line x1="676" y1="150.07" x2="673.31" y2="150.07" stroke="#2e2e2e" stroke-width="1.1"/>
<line x1="407" y1="140.31" x2="409.69" y2="140.31" stroke="#2e2e2e" stroke-width="1.1"/>
<line x1="676" y1="140.31" x2="673.31" y2="140.31" stroke="#2e2e2e" stroke-width="1.1"/>
<line x1="407" y1="130.56" x2="412.38" y2="130.56" stroke="#2e2e2e" stroke-width="1.1"/>
<line x1="676" y1="130.56" x2="670.62" y2="130.56" stroke="#2e2e2e" stroke-width="1.1"/>
<text class="s" x="404.7" y="134.46" text-anchor="end" font-size="8.5">40</text>
<line x1="407" y1="120.81" x2="409.69" y2="120.81" stroke="#2e2e2e" stroke-width="1.1"/>
<line x1="676" y1="120.81" x2="673.31" y2="120.81" stroke="#2e2e2e" stroke-width="1.1"/>
<line x1="407" y1="111.05" x2="409.69" y2="111.05" stroke="#2e2e2e" stroke-width="1.1"/>
<line x1="676" y1="111.05" x2="673.31" y2="111.05" stroke="#2e2e2e" stroke-width="1.1"/>
<line x1="407" y1="101.3" x2="409.69" y2="101.3" stroke="#2e2e2e" stroke-width="1.1"/>
<line x1="676" y1="101.3" x2="673.31" y2="101.3" stroke="#2e2e2e" stroke-width="1.1"/>
<line x1="407" y1="91.54" x2="412.38" y2="91.54" stroke="#2e2e2e" stroke-width="1.1"/>
<line x1="676" y1="91.54" x2="670.62" y2="91.54" stroke="#2e2e2e" stroke-width="1.1"/>
<text class="s" x="404.7" y="95.44" text-anchor="end" font-size="8.5">60</text>
<line x1="407" y1="81.79" x2="409.69" y2="81.79" stroke="#2e2e2e" stroke-width="1.1"/>
<line x1="676" y1="81.79" x2="673.31" y2="81.79" stroke="#2e2e2e" stroke-width="1.1"/>
<line x1="407" y1="72.03" x2="409.69" y2="72.03" stroke="#2e2e2e" stroke-width="1.1"/>
<line x1="676" y1="72.03" x2="673.31" y2="72.03" stroke="#2e2e2e" stroke-width="1.1"/>
<line x1="407" y1="62.28" x2="409.69" y2="62.28" stroke="#2e2e2e" stroke-width="1.1"/>
<line x1="676" y1="62.28" x2="673.31" y2="62.28" stroke="#2e2e2e" stroke-width="1.1"/>
<line x1="407" y1="52.52" x2="412.38" y2="52.52" stroke="#2e2e2e" stroke-width="1.1"/>
<line x1="676" y1="52.52" x2="670.62" y2="52.52" stroke="#2e2e2e" stroke-width="1.1"/>
<text class="s" x="404.7" y="56.42" text-anchor="end" font-size="8.5">80</text>
<line x1="407" y1="42.77" x2="409.69" y2="42.77" stroke="#2e2e2e" stroke-width="1.1"/>
<line x1="676" y1="42.77" x2="673.31" y2="42.77" stroke="#2e2e2e" stroke-width="1.1"/>
<line x1="407" y1="33.01" x2="409.69" y2="33.01" stroke="#2e2e2e" stroke-width="1.1"/>
<line x1="676" y1="33.01" x2="673.31" y2="33.01" stroke="#2e2e2e" stroke-width="1.1"/>
<line x1="407" y1="23.26" x2="409.69" y2="23.26" stroke="#2e2e2e" stroke-width="1.1"/>
<line x1="676" y1="23.26" x2="673.31" y2="23.26" stroke="#2e2e2e" stroke-width="1.1"/>
<text class="s" x="404.7" y="19.9" text-anchor="end" font-size="8.5">100</text>
<polyline points="413.73,31.8 420.45,89.5 421.12,93.52 421.8,97.42 422.47,101.2 423.14,104.84 423.81,108.33 424.49,111.66 425.16,114.83 425.83,117.81 426.5,120.61 427.18,123.2 427.85,125.62 428.52,127.93 429.19,130.12 429.87,132.2 430.54,134.19 431.21,136.09 431.88,137.9 432.56,139.63 433.23,141.3 433.9,142.9 434.57,144.45 435.25,145.94 435.92,147.38 436.59,148.76 437.26,150.09 437.94,151.37 438.61,152.6 439.28,153.78 439.95,154.92 440.62,156 441.3,157.04 441.97,158.04 442.64,159 443.31,159.93 443.99,160.83 444.66,161.69 445.33,162.53 446,163.34 446.68,164.13 447.35,164.9 448.02,165.65 448.69,166.38 449.37,167.09 450.04,167.77 450.71,168.44 451.38,169.09 452.06,169.73 452.73,170.34 453.4,170.93 454.07,171.5 454.75,172.05 455.42,172.58 456.09,173.09 456.76,173.59 457.44,174.07 458.11,174.55 458.78,175.01 459.45,175.48 460.13,175.94 460.8,176.4 461.47,176.87 462.14,177.33 462.82,177.8 463.49,178.26 464.16,178.72 464.84,179.16 465.51,179.6 466.18,180.02 466.85,180.42 467.52,180.8 468.2,181.17 468.87,181.52 469.54,181.87 470.21,182.21 470.89,182.54 471.56,182.85 472.23,183.16 472.9,183.45 473.58,183.73 474.25,184 474.92,184.26 475.6,184.5 476.27,184.74 476.94,184.97 477.61,185.19 478.28,185.41 478.96,185.62 479.63,185.82 480.3,186.01 480.98,186.2 481.65,186.38 482.32,186.56 482.99,186.73 483.66,186.9 484.34,187.06 485.01,187.22 485.68,187.37 486.36,187.52 487.03,187.66 487.7,187.8 488.37,187.93 489.05,188.06 489.72,188.18 490.39,188.3 491.06,188.41 491.74,188.52 492.41,188.64 493.08,188.75 493.75,188.87 494.43,189 495.1,189.13 495.77,189.27 496.44,189.41 497.12,189.55 497.79,189.7 498.46,189.85 499.13,189.99 499.81,190.13 500.48,190.27 501.15,190.4 501.82,190.53 502.5,190.66 503.17,190.79 503.84,190.92 504.51,191.05 505.19,191.17 505.86,191.29 506.53,191.4 507.2,191.51 507.88,191.6 508.55,191.69 509.22,191.77 509.89,191.85 510.56,191.92 511.24,192 511.91,192.07 512.58,192.13 513.25,192.19 513.93,192.25 514.6,192.3 515.27,192.35 515.95,192.4 516.62,192.44 517.29,192.48 517.96,192.52 518.63,192.56 519.31,192.6 519.98,192.63 520.65,192.67 521.33,192.7 522,192.73 522.67,192.77 523.34,192.8 524.01,192.83 524.69,192.86 525.36,192.88 526.03,192.91 526.71,192.94 527.38,192.97 528.05,193 528.72,193.03 529.39,193.07 530.07,193.11 530.74,193.15 531.41,193.19 532.09,193.22 532.76,193.25 533.43,193.28 534.1,193.29 534.77,193.3 535.45,193.3 536.12,193.3 536.79,193.3 537.47,193.3 538.14,193.3 538.81,193.3 539.48,193.3 540.15,193.3 540.83,193.3 541.5,193.3 542.17,193.29 542.85,193.25 543.52,193.2 544.19,193.13 544.86,193.06 545.53,192.98 546.21,192.9 546.88,192.82 547.55,192.76 548.23,192.7 548.9,192.65 549.57,192.61 550.24,192.57 550.91,192.54 551.59,192.5 552.26,192.46 552.93,192.43 553.61,192.39 554.28,192.35 554.95,192.3 555.62,192.25 556.3,192.2 556.97,192.14 557.64,192.09 558.31,192.03 558.99,191.96 559.66,191.9 560.33,191.83 561,191.77 561.67,191.7 562.35,191.63 563.02,191.56 563.69,191.49 564.37,191.41 565.04,191.33 565.71,191.25 566.38,191.17 567.06,191.08 567.73,190.99 568.4,190.9 569.07,190.8 569.75,190.7 570.42,190.59 571.09,190.47 571.76,190.35 572.43,190.23 573.11,190.1 573.78,189.97 574.45,189.84 575.12,189.7 575.8,189.56 576.47,189.42 577.14,189.27 577.82,189.11 578.49,188.96 579.16,188.79 579.83,188.63 580.5,188.45 581.18,188.28 581.85,188.1 582.52,187.91 583.2,187.72 583.87,187.53 584.54,187.32 585.21,187.11 585.88,186.9 586.56,186.68 587.23,186.46 587.9,186.23 588.58,186 589.25,185.76 589.92,185.52 590.59,185.26 591.26,185 591.94,184.74 592.61,184.47 593.28,184.2 593.95,183.94 594.63,183.67 595.3,183.4 595.97,183.14 596.64,182.88 597.32,182.61 597.99,182.35 598.66,182.09 599.34,181.82 600.01,181.55 600.68,181.28 601.35,180.99 602.02,180.7 602.7,180.41 603.37,180.12 604.04,179.84 604.72,179.55 605.39,179.24 606.06,178.93 606.73,178.59 607.4,178.23 608.08,177.83 608.75,177.4 609.42,176.91 610.1,176.36 610.77,175.74 611.44,175.08 612.11,174.36 612.78,173.59 613.46,172.79 614.13,171.95 614.8,171.09 615.48,170.2 616.15,169.29 616.82,168.35 617.49,167.36 618.16,166.32 618.84,165.21 619.51,164.03 620.18,162.76 620.86,161.39 621.53,159.9 622.2,158.3 622.87,156.49 623.55,154.41 624.22,152.08 624.89,149.52 625.56,146.75 626.24,143.79 626.91,140.65 627.58,137.36 628.25,133.94 628.92,130.4 635.65,59.8" fill="none" stroke="#303030" stroke-width="1.05" stroke-linejoin="round"/>
<text transform="translate(381.0,124.2) rotate(-90)" text-anchor="middle" font-size="13.2" class="r">cross-range resolution (m)</text>
<text class="r" x="541.8" y="238.3" text-anchor="middle" font-size="13.0">subimage number</text>
<text class="r" x="547" y="266" text-anchor="middle" font-size="12.6">(b)</text>
<rect x="75.4" y="275.6" width="268.1" height="195" fill="none" stroke="#2e2e2e" stroke-width="1.1"/>
<text class="s" x="75.4" y="483.4" text-anchor="middle" font-size="8.5">&#8722;0.8</text>
<line x1="83.78" y1="470.6" x2="83.78" y2="468.65" stroke="#2e2e2e" stroke-width="1.1"/>
<line x1="83.78" y1="275.6" x2="83.78" y2="277.55" stroke="#2e2e2e" stroke-width="1.1"/>
<line x1="92.16" y1="470.6" x2="92.16" y2="468.65" stroke="#2e2e2e" stroke-width="1.1"/>
<line x1="92.16" y1="275.6" x2="92.16" y2="277.55" stroke="#2e2e2e" stroke-width="1.1"/>
<line x1="100.53" y1="470.6" x2="100.53" y2="468.65" stroke="#2e2e2e" stroke-width="1.1"/>
<line x1="100.53" y1="275.6" x2="100.53" y2="277.55" stroke="#2e2e2e" stroke-width="1.1"/>
<line x1="108.91" y1="470.6" x2="108.91" y2="466.7" stroke="#2e2e2e" stroke-width="1.1"/>
<line x1="108.91" y1="275.6" x2="108.91" y2="279.5" stroke="#2e2e2e" stroke-width="1.1"/>
<text class="s" x="108.91" y="483.4" text-anchor="middle" font-size="8.5">&#8722;0.6</text>
<line x1="117.29" y1="470.6" x2="117.29" y2="468.65" stroke="#2e2e2e" stroke-width="1.1"/>
<line x1="117.29" y1="275.6" x2="117.29" y2="277.55" stroke="#2e2e2e" stroke-width="1.1"/>
<line x1="125.67" y1="470.6" x2="125.67" y2="468.65" stroke="#2e2e2e" stroke-width="1.1"/>
<line x1="125.67" y1="275.6" x2="125.67" y2="277.55" stroke="#2e2e2e" stroke-width="1.1"/>
<line x1="134.05" y1="470.6" x2="134.05" y2="468.65" stroke="#2e2e2e" stroke-width="1.1"/>
<line x1="134.05" y1="275.6" x2="134.05" y2="277.55" stroke="#2e2e2e" stroke-width="1.1"/>
<line x1="142.43" y1="470.6" x2="142.43" y2="466.7" stroke="#2e2e2e" stroke-width="1.1"/>
<line x1="142.43" y1="275.6" x2="142.43" y2="279.5" stroke="#2e2e2e" stroke-width="1.1"/>
<text class="s" x="142.43" y="483.4" text-anchor="middle" font-size="8.5">&#8722;0.4</text>
<line x1="150.8" y1="470.6" x2="150.8" y2="468.65" stroke="#2e2e2e" stroke-width="1.1"/>
<line x1="150.8" y1="275.6" x2="150.8" y2="277.55" stroke="#2e2e2e" stroke-width="1.1"/>
<line x1="159.18" y1="470.6" x2="159.18" y2="468.65" stroke="#2e2e2e" stroke-width="1.1"/>
<line x1="159.18" y1="275.6" x2="159.18" y2="277.55" stroke="#2e2e2e" stroke-width="1.1"/>
<line x1="167.56" y1="470.6" x2="167.56" y2="468.65" stroke="#2e2e2e" stroke-width="1.1"/>
<line x1="167.56" y1="275.6" x2="167.56" y2="277.55" stroke="#2e2e2e" stroke-width="1.1"/>
<line x1="175.94" y1="470.6" x2="175.94" y2="466.7" stroke="#2e2e2e" stroke-width="1.1"/>
<line x1="175.94" y1="275.6" x2="175.94" y2="279.5" stroke="#2e2e2e" stroke-width="1.1"/>
<text class="s" x="175.94" y="483.4" text-anchor="middle" font-size="8.5">&#8722;0.2</text>
<line x1="184.32" y1="470.6" x2="184.32" y2="468.65" stroke="#2e2e2e" stroke-width="1.1"/>
<line x1="184.32" y1="275.6" x2="184.32" y2="277.55" stroke="#2e2e2e" stroke-width="1.1"/>
<line x1="192.69" y1="470.6" x2="192.69" y2="468.65" stroke="#2e2e2e" stroke-width="1.1"/>
<line x1="192.69" y1="275.6" x2="192.69" y2="277.55" stroke="#2e2e2e" stroke-width="1.1"/>
<line x1="201.07" y1="470.6" x2="201.07" y2="468.65" stroke="#2e2e2e" stroke-width="1.1"/>
<line x1="201.07" y1="275.6" x2="201.07" y2="277.55" stroke="#2e2e2e" stroke-width="1.1"/>
<line x1="209.45" y1="470.6" x2="209.45" y2="466.7" stroke="#2e2e2e" stroke-width="1.1"/>
<line x1="209.45" y1="275.6" x2="209.45" y2="279.5" stroke="#2e2e2e" stroke-width="1.1"/>
<text class="s" x="209.45" y="483.4" text-anchor="middle" font-size="8.5">0.0</text>
<line x1="217.83" y1="470.6" x2="217.83" y2="468.65" stroke="#2e2e2e" stroke-width="1.1"/>
<line x1="217.83" y1="275.6" x2="217.83" y2="277.55" stroke="#2e2e2e" stroke-width="1.1"/>
<line x1="226.21" y1="470.6" x2="226.21" y2="468.65" stroke="#2e2e2e" stroke-width="1.1"/>
<line x1="226.21" y1="275.6" x2="226.21" y2="277.55" stroke="#2e2e2e" stroke-width="1.1"/>
<line x1="234.58" y1="470.6" x2="234.58" y2="468.65" stroke="#2e2e2e" stroke-width="1.1"/>
<line x1="234.58" y1="275.6" x2="234.58" y2="277.55" stroke="#2e2e2e" stroke-width="1.1"/>
<line x1="242.96" y1="470.6" x2="242.96" y2="466.7" stroke="#2e2e2e" stroke-width="1.1"/>
<line x1="242.96" y1="275.6" x2="242.96" y2="279.5" stroke="#2e2e2e" stroke-width="1.1"/>
<text class="s" x="242.96" y="483.4" text-anchor="middle" font-size="8.5">0.2</text>
<line x1="251.34" y1="470.6" x2="251.34" y2="468.65" stroke="#2e2e2e" stroke-width="1.1"/>
<line x1="251.34" y1="275.6" x2="251.34" y2="277.55" stroke="#2e2e2e" stroke-width="1.1"/>
<line x1="259.72" y1="470.6" x2="259.72" y2="468.65" stroke="#2e2e2e" stroke-width="1.1"/>
<line x1="259.72" y1="275.6" x2="259.72" y2="277.55" stroke="#2e2e2e" stroke-width="1.1"/>
<line x1="268.1" y1="470.6" x2="268.1" y2="468.65" stroke="#2e2e2e" stroke-width="1.1"/>
<line x1="268.1" y1="275.6" x2="268.1" y2="277.55" stroke="#2e2e2e" stroke-width="1.1"/>
<line x1="276.48" y1="470.6" x2="276.48" y2="466.7" stroke="#2e2e2e" stroke-width="1.1"/>
<line x1="276.48" y1="275.6" x2="276.48" y2="279.5" stroke="#2e2e2e" stroke-width="1.1"/>
<text class="s" x="276.48" y="483.4" text-anchor="middle" font-size="8.5">0.4</text>
<line x1="284.85" y1="470.6" x2="284.85" y2="468.65" stroke="#2e2e2e" stroke-width="1.1"/>
<line x1="284.85" y1="275.6" x2="284.85" y2="277.55" stroke="#2e2e2e" stroke-width="1.1"/>
<line x1="293.23" y1="470.6" x2="293.23" y2="468.65" stroke="#2e2e2e" stroke-width="1.1"/>
<line x1="293.23" y1="275.6" x2="293.23" y2="277.55" stroke="#2e2e2e" stroke-width="1.1"/>
<line x1="301.61" y1="470.6" x2="301.61" y2="468.65" stroke="#2e2e2e" stroke-width="1.1"/>
<line x1="301.61" y1="275.6" x2="301.61" y2="277.55" stroke="#2e2e2e" stroke-width="1.1"/>
<line x1="309.99" y1="470.6" x2="309.99" y2="466.7" stroke="#2e2e2e" stroke-width="1.1"/>
<line x1="309.99" y1="275.6" x2="309.99" y2="279.5" stroke="#2e2e2e" stroke-width="1.1"/>
<text class="s" x="309.99" y="483.4" text-anchor="middle" font-size="8.5">0.6</text>
<line x1="318.37" y1="470.6" x2="318.37" y2="468.65" stroke="#2e2e2e" stroke-width="1.1"/>
<line x1="318.37" y1="275.6" x2="318.37" y2="277.55" stroke="#2e2e2e" stroke-width="1.1"/>
<line x1="326.74" y1="470.6" x2="326.74" y2="468.65" stroke="#2e2e2e" stroke-width="1.1"/>
<line x1="326.74" y1="275.6" x2="326.74" y2="277.55" stroke="#2e2e2e" stroke-width="1.1"/>
<line x1="335.12" y1="470.6" x2="335.12" y2="468.65" stroke="#2e2e2e" stroke-width="1.1"/>
<line x1="335.12" y1="275.6" x2="335.12" y2="277.55" stroke="#2e2e2e" stroke-width="1.1"/>
<text class="s" x="343.5" y="483.4" text-anchor="middle" font-size="8.5">0.8</text>
<text class="s" x="72.8" y="471" text-anchor="end" font-size="8.4">&#8722;2.0&#215;10<tspan font-size="5.6" dy="-3.3">3</tspan></text>
<line x1="75.4" y1="463.64" x2="78.08" y2="463.64" stroke="#2e2e2e" stroke-width="1.1"/>
<line x1="343.5" y1="463.64" x2="340.82" y2="463.64" stroke="#2e2e2e" stroke-width="1.1"/>
<line x1="75.4" y1="456.67" x2="78.08" y2="456.67" stroke="#2e2e2e" stroke-width="1.1"/>
<line x1="343.5" y1="456.67" x2="340.82" y2="456.67" stroke="#2e2e2e" stroke-width="1.1"/>
<line x1="75.4" y1="449.71" x2="78.08" y2="449.71" stroke="#2e2e2e" stroke-width="1.1"/>
<line x1="343.5" y1="449.71" x2="340.82" y2="449.71" stroke="#2e2e2e" stroke-width="1.1"/>
<line x1="75.4" y1="442.74" x2="80.76" y2="442.74" stroke="#2e2e2e" stroke-width="1.1"/>
<line x1="343.5" y1="442.74" x2="338.14" y2="442.74" stroke="#2e2e2e" stroke-width="1.1"/>
<text class="s" x="72.8" y="446.64" text-anchor="end" font-size="8.4">0</text>
<line x1="75.4" y1="435.78" x2="78.08" y2="435.78" stroke="#2e2e2e" stroke-width="1.1"/>
<line x1="343.5" y1="435.78" x2="340.82" y2="435.78" stroke="#2e2e2e" stroke-width="1.1"/>
<line x1="75.4" y1="428.81" x2="78.08" y2="428.81" stroke="#2e2e2e" stroke-width="1.1"/>
<line x1="343.5" y1="428.81" x2="340.82" y2="428.81" stroke="#2e2e2e" stroke-width="1.1"/>
<line x1="75.4" y1="421.85" x2="78.08" y2="421.85" stroke="#2e2e2e" stroke-width="1.1"/>
<line x1="343.5" y1="421.85" x2="340.82" y2="421.85" stroke="#2e2e2e" stroke-width="1.1"/>
<line x1="75.4" y1="414.89" x2="80.76" y2="414.89" stroke="#2e2e2e" stroke-width="1.1"/>
<line x1="343.5" y1="414.89" x2="338.14" y2="414.89" stroke="#2e2e2e" stroke-width="1.1"/>
<text class="s" x="72.8" y="418.79" text-anchor="end" font-size="8.4">2.0&#215;10<tspan font-size="5.6" dy="-3.3">3</tspan></text>
<line x1="75.4" y1="407.92" x2="78.08" y2="407.92" stroke="#2e2e2e" stroke-width="1.1"/>
<line x1="343.5" y1="407.92" x2="340.82" y2="407.92" stroke="#2e2e2e" stroke-width="1.1"/>
<line x1="75.4" y1="400.96" x2="78.08" y2="400.96" stroke="#2e2e2e" stroke-width="1.1"/>
<line x1="343.5" y1="400.96" x2="340.82" y2="400.96" stroke="#2e2e2e" stroke-width="1.1"/>
<line x1="75.4" y1="393.99" x2="78.08" y2="393.99" stroke="#2e2e2e" stroke-width="1.1"/>
<line x1="343.5" y1="393.99" x2="340.82" y2="393.99" stroke="#2e2e2e" stroke-width="1.1"/>
<line x1="75.4" y1="387.03" x2="80.76" y2="387.03" stroke="#2e2e2e" stroke-width="1.1"/>
<line x1="343.5" y1="387.03" x2="338.14" y2="387.03" stroke="#2e2e2e" stroke-width="1.1"/>
<text class="s" x="72.8" y="390.93" text-anchor="end" font-size="8.4">4.0&#215;10<tspan font-size="5.6" dy="-3.3">3</tspan></text>
<line x1="75.4" y1="380.06" x2="78.08" y2="380.06" stroke="#2e2e2e" stroke-width="1.1"/>
<line x1="343.5" y1="380.06" x2="340.82" y2="380.06" stroke="#2e2e2e" stroke-width="1.1"/>
<line x1="75.4" y1="373.1" x2="78.08" y2="373.1" stroke="#2e2e2e" stroke-width="1.1"/>
<line x1="343.5" y1="373.1" x2="340.82" y2="373.1" stroke="#2e2e2e" stroke-width="1.1"/>
<line x1="75.4" y1="366.14" x2="78.08" y2="366.14" stroke="#2e2e2e" stroke-width="1.1"/>
<line x1="343.5" y1="366.14" x2="340.82" y2="366.14" stroke="#2e2e2e" stroke-width="1.1"/>
<line x1="75.4" y1="359.17" x2="80.76" y2="359.17" stroke="#2e2e2e" stroke-width="1.1"/>
<line x1="343.5" y1="359.17" x2="338.14" y2="359.17" stroke="#2e2e2e" stroke-width="1.1"/>
<text class="s" x="72.8" y="363.07" text-anchor="end" font-size="8.4">6.0&#215;10<tspan font-size="5.6" dy="-3.3">3</tspan></text>
<line x1="75.4" y1="352.21" x2="78.08" y2="352.21" stroke="#2e2e2e" stroke-width="1.1"/>
<line x1="343.5" y1="352.21" x2="340.82" y2="352.21" stroke="#2e2e2e" stroke-width="1.1"/>
<line x1="75.4" y1="345.24" x2="78.08" y2="345.24" stroke="#2e2e2e" stroke-width="1.1"/>
<line x1="343.5" y1="345.24" x2="340.82" y2="345.24" stroke="#2e2e2e" stroke-width="1.1"/>
<line x1="75.4" y1="338.28" x2="78.08" y2="338.28" stroke="#2e2e2e" stroke-width="1.1"/>
<line x1="343.5" y1="338.28" x2="340.82" y2="338.28" stroke="#2e2e2e" stroke-width="1.1"/>
<line x1="75.4" y1="331.31" x2="80.76" y2="331.31" stroke="#2e2e2e" stroke-width="1.1"/>
<line x1="343.5" y1="331.31" x2="338.14" y2="331.31" stroke="#2e2e2e" stroke-width="1.1"/>
<text class="s" x="72.8" y="335.21" text-anchor="end" font-size="8.4">8.0&#215;10<tspan font-size="5.6" dy="-3.3">3</tspan></text>
<line x1="75.4" y1="324.35" x2="78.08" y2="324.35" stroke="#2e2e2e" stroke-width="1.1"/>
<line x1="343.5" y1="324.35" x2="340.82" y2="324.35" stroke="#2e2e2e" stroke-width="1.1"/>
<line x1="75.4" y1="317.39" x2="78.08" y2="317.39" stroke="#2e2e2e" stroke-width="1.1"/>
<line x1="343.5" y1="317.39" x2="340.82" y2="317.39" stroke="#2e2e2e" stroke-width="1.1"/>
<line x1="75.4" y1="310.42" x2="78.08" y2="310.42" stroke="#2e2e2e" stroke-width="1.1"/>
<line x1="343.5" y1="310.42" x2="340.82" y2="310.42" stroke="#2e2e2e" stroke-width="1.1"/>
<line x1="75.4" y1="303.46" x2="80.76" y2="303.46" stroke="#2e2e2e" stroke-width="1.1"/>
<line x1="343.5" y1="303.46" x2="338.14" y2="303.46" stroke="#2e2e2e" stroke-width="1.1"/>
<text class="s" x="72.8" y="307.36" text-anchor="end" font-size="8.4">1.0&#215;10<tspan font-size="5.6" dy="-3.3">4</tspan></text>
<line x1="75.4" y1="296.49" x2="78.08" y2="296.49" stroke="#2e2e2e" stroke-width="1.1"/>
<line x1="343.5" y1="296.49" x2="340.82" y2="296.49" stroke="#2e2e2e" stroke-width="1.1"/>
<line x1="75.4" y1="289.53" x2="78.08" y2="289.53" stroke="#2e2e2e" stroke-width="1.1"/>
<line x1="343.5" y1="289.53" x2="340.82" y2="289.53" stroke="#2e2e2e" stroke-width="1.1"/>
<line x1="75.4" y1="282.56" x2="78.08" y2="282.56" stroke="#2e2e2e" stroke-width="1.1"/>
<line x1="343.5" y1="282.56" x2="340.82" y2="282.56" stroke="#2e2e2e" stroke-width="1.1"/>
<text class="s" x="72.8" y="282" text-anchor="end" font-size="8.4">1.2&#215;10<tspan font-size="5.6" dy="-3.3">4</tspan></text>
<polyline points="106.2,293.85 107.5,293.81 108.8,293.9 110.1,294.11 111.39,294.44 112.69,294.9 113.99,295.47 115.29,296.16 116.59,296.97 117.89,297.9 119.19,298.94 120.49,300.1 121.78,301.36 123.08,302.74 124.38,304.22 125.68,305.8 126.98,307.49 128.28,309.28 129.58,311.16 130.88,313.13 132.17,315.19 133.47,317.34 134.77,319.57 136.07,321.88 137.37,324.26 138.67,326.72 139.97,329.24 141.27,331.83 142.56,334.47 143.86,337.17 145.16,339.91 146.46,342.71 147.76,345.54 149.06,348.41 150.36,351.31 151.66,354.24 152.95,357.19 154.25,360.16 155.55,363.14 156.85,366.13 158.15,369.12 159.45,372.11 160.75,375.09 162.05,378.06 163.34,381.02 164.64,383.96 165.94,386.87 167.24,389.74 168.54,392.59 169.84,395.39 171.14,398.15 172.44,400.87 173.73,403.53 175.03,406.13 176.33,408.67 177.63,411.15 178.93,413.55 180.23,415.89 181.53,418.15 182.83,420.32 184.12,422.41 185.42,424.42 186.72,426.33 188.02,428.16 189.32,429.88 190.62,431.51 191.92,433.03 193.22,434.45 194.51,435.76 195.81,436.96 197.11,438.05 198.41,439.03 199.71,439.9 201.01,440.65 202.31,441.28 203.61,441.8 204.9,442.19 206.2,442.47 207.5,442.63 208.8,442.66 210.1,442.58 211.4,442.38 212.7,442.05 214,441.61 215.29,441.05 216.59,440.36 217.89,439.57 219.19,438.65 220.49,437.62 221.79,436.48 223.09,435.23 224.39,433.87 225.68,432.4 226.98,430.82 228.28,429.14 229.58,427.36 230.88,425.49 232.18,423.52 233.48,421.46 234.78,419.31 236.07,417.07 237.37,414.75 238.67,412.36 239.97,409.89 241.27,407.35 242.57,404.74 243.87,402.07 245.17,399.34 246.46,396.56 247.76,393.73 249.06,390.85 250.36,387.92 251.66,384.97 252.96,381.98 254.26,378.96 255.56,375.92 256.85,372.85 258.15,369.78 259.45,366.7 260.75,363.61 262.05,360.52 263.35,357.44 264.65,354.36 265.95,351.3 267.24,348.26 268.54,345.25 269.84,342.26 271.14,339.3 272.44,336.38 273.74,333.51 275.04,330.67 276.34,327.89 277.63,325.17 278.93,322.5 280.23,319.89 281.53,317.36 282.83,314.89 284.13,312.49 285.43,310.18 286.73,307.94 288.02,305.79 289.32,303.73 290.62,301.76 291.92,299.88 293.22,298.09 294.52,296.41 295.82,294.83 297.12,293.35 298.41,291.98 299.71,290.72 301.01,289.56 302.31,288.52 303.61,287.59 304.91,286.77 306.21,286.07 307.51,285.49 308.8,285.02 310.1,284.67 311.4,284.44 312.7,284.32" fill="none" stroke="#1e1e1e" stroke-width="1.25" stroke-linejoin="round"/>
<text class="r" x="209.7" y="501" text-anchor="middle" font-size="12.6">t (s)</text>
<text class="r" x="204.5" y="521" text-anchor="middle" font-size="12.6">(c)</text>
<text x="24" y="369.8" font-size="12.6" class="r">x<tspan font-size="8.4" dy="5.6" dx="1">sc</tspan></text>
<rect x="405" y="278" width="266.4" height="193.4" fill="none" stroke="#2e2e2e" stroke-width="1.1"/>
<text class="s" x="405" y="484.1" text-anchor="middle" font-size="8.5">&#8722;0.8</text>
<line x1="413.32" y1="471.4" x2="413.32" y2="469.47" stroke="#2e2e2e" stroke-width="1.1"/>
<line x1="413.32" y1="278" x2="413.32" y2="279.93" stroke="#2e2e2e" stroke-width="1.1"/>
<line x1="421.65" y1="471.4" x2="421.65" y2="469.47" stroke="#2e2e2e" stroke-width="1.1"/>
<line x1="421.65" y1="278" x2="421.65" y2="279.93" stroke="#2e2e2e" stroke-width="1.1"/>
<line x1="429.98" y1="471.4" x2="429.98" y2="469.47" stroke="#2e2e2e" stroke-width="1.1"/>
<line x1="429.98" y1="278" x2="429.98" y2="279.93" stroke="#2e2e2e" stroke-width="1.1"/>
<line x1="438.3" y1="471.4" x2="438.3" y2="467.53" stroke="#2e2e2e" stroke-width="1.1"/>
<line x1="438.3" y1="278" x2="438.3" y2="281.87" stroke="#2e2e2e" stroke-width="1.1"/>
<text class="s" x="438.3" y="484.1" text-anchor="middle" font-size="8.5">&#8722;0.6</text>
<line x1="446.62" y1="471.4" x2="446.62" y2="469.47" stroke="#2e2e2e" stroke-width="1.1"/>
<line x1="446.62" y1="278" x2="446.62" y2="279.93" stroke="#2e2e2e" stroke-width="1.1"/>
<line x1="454.95" y1="471.4" x2="454.95" y2="469.47" stroke="#2e2e2e" stroke-width="1.1"/>
<line x1="454.95" y1="278" x2="454.95" y2="279.93" stroke="#2e2e2e" stroke-width="1.1"/>
<line x1="463.28" y1="471.4" x2="463.28" y2="469.47" stroke="#2e2e2e" stroke-width="1.1"/>
<line x1="463.28" y1="278" x2="463.28" y2="279.93" stroke="#2e2e2e" stroke-width="1.1"/>
<line x1="471.6" y1="471.4" x2="471.6" y2="467.53" stroke="#2e2e2e" stroke-width="1.1"/>
<line x1="471.6" y1="278" x2="471.6" y2="281.87" stroke="#2e2e2e" stroke-width="1.1"/>
<text class="s" x="471.6" y="484.1" text-anchor="middle" font-size="8.5">&#8722;0.4</text>
<line x1="479.93" y1="471.4" x2="479.93" y2="469.47" stroke="#2e2e2e" stroke-width="1.1"/>
<line x1="479.93" y1="278" x2="479.93" y2="279.93" stroke="#2e2e2e" stroke-width="1.1"/>
<line x1="488.25" y1="471.4" x2="488.25" y2="469.47" stroke="#2e2e2e" stroke-width="1.1"/>
<line x1="488.25" y1="278" x2="488.25" y2="279.93" stroke="#2e2e2e" stroke-width="1.1"/>
<line x1="496.58" y1="471.4" x2="496.58" y2="469.47" stroke="#2e2e2e" stroke-width="1.1"/>
<line x1="496.58" y1="278" x2="496.58" y2="279.93" stroke="#2e2e2e" stroke-width="1.1"/>
<line x1="504.9" y1="471.4" x2="504.9" y2="467.53" stroke="#2e2e2e" stroke-width="1.1"/>
<line x1="504.9" y1="278" x2="504.9" y2="281.87" stroke="#2e2e2e" stroke-width="1.1"/>
<text class="s" x="504.9" y="484.1" text-anchor="middle" font-size="8.5">&#8722;0.2</text>
<line x1="513.23" y1="471.4" x2="513.23" y2="469.47" stroke="#2e2e2e" stroke-width="1.1"/>
<line x1="513.23" y1="278" x2="513.23" y2="279.93" stroke="#2e2e2e" stroke-width="1.1"/>
<line x1="521.55" y1="471.4" x2="521.55" y2="469.47" stroke="#2e2e2e" stroke-width="1.1"/>
<line x1="521.55" y1="278" x2="521.55" y2="279.93" stroke="#2e2e2e" stroke-width="1.1"/>
<line x1="529.88" y1="471.4" x2="529.88" y2="469.47" stroke="#2e2e2e" stroke-width="1.1"/>
<line x1="529.88" y1="278" x2="529.88" y2="279.93" stroke="#2e2e2e" stroke-width="1.1"/>
<line x1="538.2" y1="471.4" x2="538.2" y2="467.53" stroke="#2e2e2e" stroke-width="1.1"/>
<line x1="538.2" y1="278" x2="538.2" y2="281.87" stroke="#2e2e2e" stroke-width="1.1"/>
<text class="s" x="538.2" y="484.1" text-anchor="middle" font-size="8.5">0.0</text>
<line x1="546.53" y1="471.4" x2="546.53" y2="469.47" stroke="#2e2e2e" stroke-width="1.1"/>
<line x1="546.53" y1="278" x2="546.53" y2="279.93" stroke="#2e2e2e" stroke-width="1.1"/>
<line x1="554.85" y1="471.4" x2="554.85" y2="469.47" stroke="#2e2e2e" stroke-width="1.1"/>
<line x1="554.85" y1="278" x2="554.85" y2="279.93" stroke="#2e2e2e" stroke-width="1.1"/>
<line x1="563.18" y1="471.4" x2="563.18" y2="469.47" stroke="#2e2e2e" stroke-width="1.1"/>
<line x1="563.18" y1="278" x2="563.18" y2="279.93" stroke="#2e2e2e" stroke-width="1.1"/>
<line x1="571.5" y1="471.4" x2="571.5" y2="467.53" stroke="#2e2e2e" stroke-width="1.1"/>
<line x1="571.5" y1="278" x2="571.5" y2="281.87" stroke="#2e2e2e" stroke-width="1.1"/>
<text class="s" x="571.5" y="484.1" text-anchor="middle" font-size="8.5">0.2</text>
<line x1="579.83" y1="471.4" x2="579.83" y2="469.47" stroke="#2e2e2e" stroke-width="1.1"/>
<line x1="579.83" y1="278" x2="579.83" y2="279.93" stroke="#2e2e2e" stroke-width="1.1"/>
<line x1="588.15" y1="471.4" x2="588.15" y2="469.47" stroke="#2e2e2e" stroke-width="1.1"/>
<line x1="588.15" y1="278" x2="588.15" y2="279.93" stroke="#2e2e2e" stroke-width="1.1"/>
<line x1="596.48" y1="471.4" x2="596.48" y2="469.47" stroke="#2e2e2e" stroke-width="1.1"/>
<line x1="596.48" y1="278" x2="596.48" y2="279.93" stroke="#2e2e2e" stroke-width="1.1"/>
<line x1="604.8" y1="471.4" x2="604.8" y2="467.53" stroke="#2e2e2e" stroke-width="1.1"/>
<line x1="604.8" y1="278" x2="604.8" y2="281.87" stroke="#2e2e2e" stroke-width="1.1"/>
<text class="s" x="604.8" y="484.1" text-anchor="middle" font-size="8.5">0.4</text>
<line x1="613.12" y1="471.4" x2="613.12" y2="469.47" stroke="#2e2e2e" stroke-width="1.1"/>
<line x1="613.12" y1="278" x2="613.12" y2="279.93" stroke="#2e2e2e" stroke-width="1.1"/>
<line x1="621.45" y1="471.4" x2="621.45" y2="469.47" stroke="#2e2e2e" stroke-width="1.1"/>
<line x1="621.45" y1="278" x2="621.45" y2="279.93" stroke="#2e2e2e" stroke-width="1.1"/>
<line x1="629.77" y1="471.4" x2="629.77" y2="469.47" stroke="#2e2e2e" stroke-width="1.1"/>
<line x1="629.77" y1="278" x2="629.77" y2="279.93" stroke="#2e2e2e" stroke-width="1.1"/>
<line x1="638.1" y1="471.4" x2="638.1" y2="467.53" stroke="#2e2e2e" stroke-width="1.1"/>
<line x1="638.1" y1="278" x2="638.1" y2="281.87" stroke="#2e2e2e" stroke-width="1.1"/>
<text class="s" x="638.1" y="484.1" text-anchor="middle" font-size="8.5">0.6</text>
<line x1="646.43" y1="471.4" x2="646.43" y2="469.47" stroke="#2e2e2e" stroke-width="1.1"/>
<line x1="646.43" y1="278" x2="646.43" y2="279.93" stroke="#2e2e2e" stroke-width="1.1"/>
<line x1="654.75" y1="471.4" x2="654.75" y2="469.47" stroke="#2e2e2e" stroke-width="1.1"/>
<line x1="654.75" y1="278" x2="654.75" y2="279.93" stroke="#2e2e2e" stroke-width="1.1"/>
<line x1="663.08" y1="471.4" x2="663.08" y2="469.47" stroke="#2e2e2e" stroke-width="1.1"/>
<line x1="663.08" y1="278" x2="663.08" y2="279.93" stroke="#2e2e2e" stroke-width="1.1"/>
<text class="s" x="671.4" y="484.1" text-anchor="middle" font-size="8.5">0.8</text>
<text class="s" x="402.7" y="471.7" text-anchor="end" font-size="8.5">&#8722;6000</text>
<line x1="405" y1="463.34" x2="407.66" y2="463.34" stroke="#2e2e2e" stroke-width="1.1"/>
<line x1="671.4" y1="463.34" x2="668.74" y2="463.34" stroke="#2e2e2e" stroke-width="1.1"/>
<line x1="405" y1="455.28" x2="407.66" y2="455.28" stroke="#2e2e2e" stroke-width="1.1"/>
<line x1="671.4" y1="455.28" x2="668.74" y2="455.28" stroke="#2e2e2e" stroke-width="1.1"/>
<line x1="405" y1="447.22" x2="407.66" y2="447.22" stroke="#2e2e2e" stroke-width="1.1"/>
<line x1="671.4" y1="447.22" x2="668.74" y2="447.22" stroke="#2e2e2e" stroke-width="1.1"/>
<line x1="405" y1="439.17" x2="410.33" y2="439.17" stroke="#2e2e2e" stroke-width="1.1"/>
<line x1="671.4" y1="439.17" x2="666.07" y2="439.17" stroke="#2e2e2e" stroke-width="1.1"/>
<text class="s" x="402.7" y="443.07" text-anchor="end" font-size="8.5">&#8722;4000</text>
<line x1="405" y1="431.11" x2="407.66" y2="431.11" stroke="#2e2e2e" stroke-width="1.1"/>
<line x1="671.4" y1="431.11" x2="668.74" y2="431.11" stroke="#2e2e2e" stroke-width="1.1"/>
<line x1="405" y1="423.05" x2="407.66" y2="423.05" stroke="#2e2e2e" stroke-width="1.1"/>
<line x1="671.4" y1="423.05" x2="668.74" y2="423.05" stroke="#2e2e2e" stroke-width="1.1"/>
<line x1="405" y1="414.99" x2="407.66" y2="414.99" stroke="#2e2e2e" stroke-width="1.1"/>
<line x1="671.4" y1="414.99" x2="668.74" y2="414.99" stroke="#2e2e2e" stroke-width="1.1"/>
<line x1="405" y1="406.93" x2="410.33" y2="406.93" stroke="#2e2e2e" stroke-width="1.1"/>
<line x1="671.4" y1="406.93" x2="666.07" y2="406.93" stroke="#2e2e2e" stroke-width="1.1"/>
<text class="s" x="402.7" y="410.83" text-anchor="end" font-size="8.5">&#8722;2000</text>
<line x1="405" y1="398.88" x2="407.66" y2="398.88" stroke="#2e2e2e" stroke-width="1.1"/>
<line x1="671.4" y1="398.88" x2="668.74" y2="398.88" stroke="#2e2e2e" stroke-width="1.1"/>
<line x1="405" y1="390.82" x2="407.66" y2="390.82" stroke="#2e2e2e" stroke-width="1.1"/>
<line x1="671.4" y1="390.82" x2="668.74" y2="390.82" stroke="#2e2e2e" stroke-width="1.1"/>
<line x1="405" y1="382.76" x2="407.66" y2="382.76" stroke="#2e2e2e" stroke-width="1.1"/>
<line x1="671.4" y1="382.76" x2="668.74" y2="382.76" stroke="#2e2e2e" stroke-width="1.1"/>
<line x1="405" y1="374.7" x2="410.33" y2="374.7" stroke="#2e2e2e" stroke-width="1.1"/>
<line x1="671.4" y1="374.7" x2="666.07" y2="374.7" stroke="#2e2e2e" stroke-width="1.1"/>
<text class="s" x="402.7" y="378.6" text-anchor="end" font-size="8.5">0</text>
<line x1="405" y1="366.64" x2="407.66" y2="366.64" stroke="#2e2e2e" stroke-width="1.1"/>
<line x1="671.4" y1="366.64" x2="668.74" y2="366.64" stroke="#2e2e2e" stroke-width="1.1"/>
<line x1="405" y1="358.58" x2="407.66" y2="358.58" stroke="#2e2e2e" stroke-width="1.1"/>
<line x1="671.4" y1="358.58" x2="668.74" y2="358.58" stroke="#2e2e2e" stroke-width="1.1"/>
<line x1="405" y1="350.52" x2="407.66" y2="350.52" stroke="#2e2e2e" stroke-width="1.1"/>
<line x1="671.4" y1="350.52" x2="668.74" y2="350.52" stroke="#2e2e2e" stroke-width="1.1"/>
<line x1="405" y1="342.47" x2="410.33" y2="342.47" stroke="#2e2e2e" stroke-width="1.1"/>
<line x1="671.4" y1="342.47" x2="666.07" y2="342.47" stroke="#2e2e2e" stroke-width="1.1"/>
<text class="s" x="402.7" y="346.37" text-anchor="end" font-size="8.5">2000</text>
<line x1="405" y1="334.41" x2="407.66" y2="334.41" stroke="#2e2e2e" stroke-width="1.1"/>
<line x1="671.4" y1="334.41" x2="668.74" y2="334.41" stroke="#2e2e2e" stroke-width="1.1"/>
<line x1="405" y1="326.35" x2="407.66" y2="326.35" stroke="#2e2e2e" stroke-width="1.1"/>
<line x1="671.4" y1="326.35" x2="668.74" y2="326.35" stroke="#2e2e2e" stroke-width="1.1"/>
<line x1="405" y1="318.29" x2="407.66" y2="318.29" stroke="#2e2e2e" stroke-width="1.1"/>
<line x1="671.4" y1="318.29" x2="668.74" y2="318.29" stroke="#2e2e2e" stroke-width="1.1"/>
<line x1="405" y1="310.23" x2="410.33" y2="310.23" stroke="#2e2e2e" stroke-width="1.1"/>
<line x1="671.4" y1="310.23" x2="666.07" y2="310.23" stroke="#2e2e2e" stroke-width="1.1"/>
<text class="s" x="402.7" y="314.13" text-anchor="end" font-size="8.5">4000</text>
<line x1="405" y1="302.18" x2="407.66" y2="302.18" stroke="#2e2e2e" stroke-width="1.1"/>
<line x1="671.4" y1="302.18" x2="668.74" y2="302.18" stroke="#2e2e2e" stroke-width="1.1"/>
<line x1="405" y1="294.12" x2="407.66" y2="294.12" stroke="#2e2e2e" stroke-width="1.1"/>
<line x1="671.4" y1="294.12" x2="668.74" y2="294.12" stroke="#2e2e2e" stroke-width="1.1"/>
<line x1="405" y1="286.06" x2="407.66" y2="286.06" stroke="#2e2e2e" stroke-width="1.1"/>
<line x1="671.4" y1="286.06" x2="668.74" y2="286.06" stroke="#2e2e2e" stroke-width="1.1"/>
<text class="s" x="402.7" y="284.4" text-anchor="end" font-size="8.5">6000</text>
<polyline points="436.22,374.68 437.24,371.76 438.26,368.85 439.28,365.95 440.29,363.05 441.31,360.17 442.33,357.31 443.35,354.47 444.37,351.65 445.39,348.85 446.41,346.09 447.43,343.35 448.45,340.65 449.47,337.98 450.48,335.35 451.5,332.76 452.52,330.22 453.54,327.72 454.56,325.27 455.58,322.87 456.6,320.53 457.62,318.24 458.64,316.01 459.66,313.83 460.67,311.73 461.69,309.68 462.71,307.7 463.73,305.79 464.75,303.94 465.77,302.17 466.79,300.48 467.81,298.85 468.83,297.31 469.85,295.84 470.86,294.45 471.88,293.14 472.9,291.91 473.92,290.76 474.94,289.7 475.96,288.73 476.98,287.84 478,287.03 479.02,286.31 480.03,285.68 481.05,285.14 482.07,284.69 483.09,284.33 484.11,284.06 485.13,283.87 486.15,283.78 487.17,283.77 488.19,283.86 489.21,284.03 490.22,284.3 491.24,284.65 492.26,285.1 493.28,285.63 494.3,286.24 495.32,286.95 496.34,287.74 497.36,288.61 498.38,289.57 499.4,290.61 500.41,291.74 501.43,292.94 502.45,294.23 503.47,295.59 504.49,297.03 505.51,298.55 506.53,300.14 507.55,301.8 508.57,303.53 509.59,305.33 510.6,307.2 511.62,309.13 512.64,311.13 513.66,313.18 514.68,315.3 515.7,317.47 516.72,319.69 517.74,321.97 518.76,324.3 519.78,326.68 520.79,329.1 521.81,331.56 522.83,334.07 523.85,336.61 524.87,339.19 525.89,341.8 526.91,344.44 527.93,347.11 528.95,349.8 529.96,352.51 530.98,355.25 532,358 533.02,360.76 534.04,363.54 535.06,366.32 536.08,369.11 537.1,371.91 538.12,374.7 539.14,377.49 540.15,380.28 541.17,383.05 542.19,385.82 543.21,388.57 544.23,391.31 545.25,394.03 546.27,396.73 547.29,399.4 548.31,402.04 549.33,404.66 550.34,407.24 551.36,409.79 552.38,412.31 553.4,414.78 554.42,417.21 555.44,419.6 556.46,421.94 557.48,424.23 558.5,426.47 559.52,428.66 560.53,430.79 561.55,432.87 562.57,434.89 563.59,436.84 564.61,438.73 565.63,440.56 566.65,442.32 567.67,444.01 568.69,445.63 569.71,447.18 570.72,448.66 571.74,450.06 572.76,451.39 573.78,452.64 574.8,453.81 575.82,454.91 576.84,455.92 577.86,456.85 578.88,457.7 579.89,458.47 580.91,459.15 581.93,459.75 582.95,460.27 583.97,460.7 584.99,461.05 586.01,461.3 587.03,461.48 588.05,461.57 589.07,461.57 590.08,461.49 591.1,461.32 592.12,461.06 593.14,460.73 594.16,460.3 595.18,459.79 596.2,459.2 597.22,458.53 598.24,457.77 599.26,456.94 600.27,456.02 601.29,455.02 602.31,453.95 603.33,452.79 604.35,451.56 605.37,450.26 606.39,448.89 607.41,447.44 608.43,445.92 609.45,444.33 610.46,442.68 611.48,440.95 612.5,439.17 613.52,437.32 614.54,435.42 615.56,433.45 616.58,431.43 617.6,429.36 618.62,427.23 619.64,425.06 620.65,422.83 621.67,420.56 622.69,418.25 623.71,415.9 624.73,413.51 625.75,411.08 626.77,408.62 627.79,406.13 628.81,403.6 629.82,401.06 630.84,398.49 631.86,395.9 632.88,393.28 633.9,390.66 634.92,388.02 635.94,385.37 636.96,382.71 637.98,380.05 639,377.38 640.01,374.72" fill="none" stroke="#1e1e1e" stroke-width="1.25" stroke-linejoin="round"/>
<text class="r" x="539.5" y="499.3" text-anchor="middle" font-size="12.6">t (s)</text>
<text class="r" x="543" y="521" text-anchor="middle" font-size="12.6">(d)</text>
<text x="366" y="378.1" font-size="12.6" class="r">y<tspan font-size="8.4" dy="5.1" dx="0.7">sc</tspan></text>
</svg>
</body></html>
